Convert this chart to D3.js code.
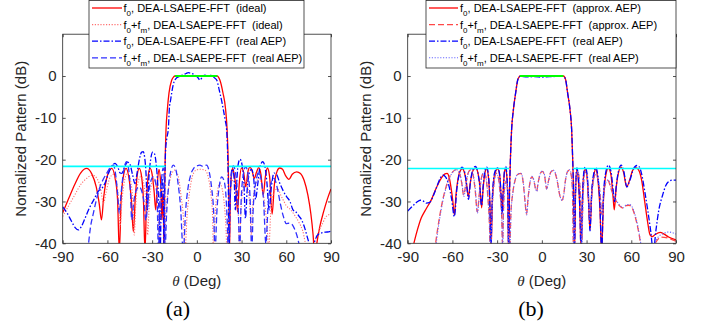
<!DOCTYPE html>
<html><head><meta charset="utf-8">
<script src="https://cdn.jsdelivr.net/npm/d3@7"></script>
<style>
body{margin:0;background:#fff}
svg{display:block;font-family:"Liberation Sans",Arial,sans-serif}
text{white-space:pre}
</style>
</head><body><svg id="c" width="709" height="327"></svg>
<script>
// ---------- data ----------
const thetaTicks = [-90, -60, -30, 0, 30, 60, 90];
const dbTicks = [-40, -30, -20, -10, 0];

// Panel (a)
const a_f0_ideal = [[-90,-32.7],[-86,-29.3],[-82,-26],[-78,-23.2],[-74,-22.1],[-70.5,-23.4],[-67.5,-26.5],[-65.5,-30.5],[-64,-34.4],[-62.5,-29],[-60,-23.8],[-57.1,-22.1],[-54.8,-24.5],[-53.2,-29.5],[-52,-42],[-50.8,-29.5],[-49.3,-24],[-47.5,-22.1],[-45.6,-24.3],[-44,-29.5],[-42.6,-37.2],[-41.2,-28.5],[-39.8,-23.2],[-38.6,-22.1],[-37.1,-24],[-35.8,-30],[-34.8,-42],[-33.8,-30],[-32.5,-23.5],[-31.4,-22.1],[-30,-23.5],[-28.7,-27.5],[-27.6,-32],[-26.5,-25.5],[-25.4,-22.3],[-24.3,-25.5],[-23.4,-34.4],[-22.9,-28],[-22.5,-30],[-22.1,-42],[-21.7,-30],[-21.3,-21],[-20.7,-12.9],[-19.8,-8.1],[-18.7,-4.1],[-16.9,-1],[-15.6,-0.2],[-14.7,0],[-8,0],[0,0],[8,0],[13.7,0],[14.6,-0.3],[15.5,-1],[17.5,-4],[19.3,-8],[20.3,-12.9],[21,-20],[21.5,-30],[21.9,-42],[22.4,-30],[23.2,-23.5],[24,-22.1],[25,-23.5],[26.3,-27],[27.3,-32.5],[28.4,-26],[30,-22],[31.5,-23.3],[32.8,-26.5],[34.2,-23],[35.6,-21.8],[37,-22.6],[38.5,-24.5],[40,-23],[41.5,-21.9],[43,-23.5],[44.5,-28.5],[46,-24],[47.3,-22],[48.8,-24],[50.5,-33],[52,-26],[53.8,-22.8],[55.5,-22],[57.5,-22.3],[59.5,-23.8],[61.8,-24.7],[64,-23.5],[67,-22.9],[69.5,-23.3],[72,-25],[74.5,-28.5],[76.5,-33],[78,-38],[79.2,-44],[80.5,-40],[82.5,-36],[85,-32.5],[87.5,-29.5],[90,-27]];

const a_fm_ideal = [[-90,-33.6],[-86,-31],[-82,-28.5],[-78,-26],[-74,-24.5],[-70,-23.7],[-67,-24.5],[-64.5,-27],[-62.7,-30.5],[-61,-28],[-58.5,-24.5],[-56,-23.5],[-54,-25],[-52.5,-30],[-51.5,-36],[-50.3,-30],[-48.5,-25],[-46.5,-23.2],[-44.5,-25],[-42.8,-31],[-42,-38],[-41,-31],[-39.5,-25.5],[-37.5,-24],[-35.5,-26],[-34,-31],[-33,-38],[-32,-31],[-30.5,-26],[-28.8,-24.5],[-27.2,-27],[-26,-33],[-25.2,-42],[-24.2,-32],[-23.2,-27],[-22.4,-29],[-21.8,-42],[-20.8,-33],[-19,-27],[-17,-23.5],[-14.7,-22.5],[-12.5,-24],[-10.5,-29],[-9,-34],[-8,-42],[-6.5,-33],[-5,-28],[-3,-24],[-0.5,-22.5],[2.5,-22.3],[5.5,-22.5],[7.5,-24],[9.5,-28.5],[10.5,-33],[11.1,-42],[12.3,-33],[13.8,-27.5],[15.5,-25.7],[17,-27],[18.5,-31],[19.5,-36],[20.2,-42],[21.2,-33],[22.5,-27.5],[24,-25],[25.5,-25.5],[27,-29],[28,-35],[28.6,-42],[29.5,-33],[31,-27],[32.5,-25],[34,-26.5],[35.5,-31],[36.5,-38],[37.5,-31],[39.5,-26],[41.5,-24.5],[43.5,-26],[45.5,-30.5],[47.5,-38],[48.2,-42],[49.5,-33],[51.5,-28],[54,-27],[57,-29],[60,-31],[63,-32],[66,-33.5],[68.5,-35],[71,-37],[73.5,-40.5],[77,-41],[80,-38.5],[84,-35.5],[87,-33.5],[90,-33]];

const a_f0_real = [[-90,-31.3],[-87,-32.8],[-84,-34.8],[-81.5,-36.3],[-79.5,-36.8],[-77.5,-36],[-75,-34],[-72,-31.5],[-69,-29.5],[-66,-27.5],[-63.8,-26.9],[-61.5,-25.5],[-59,-23],[-56.5,-21.3],[-54.9,-20.9],[-53,-21.8],[-51.5,-23.2],[-50.4,-23.3],[-48.5,-21.8],[-46.5,-20.6],[-45,-21],[-43.2,-23.5],[-41.5,-25.7],[-40,-23],[-38.5,-19.8],[-37,-18.2],[-36,-18.1],[-35,-19.5],[-34,-24],[-33.2,-32],[-32.3,-25],[-31,-20],[-29.6,-18.2],[-28.5,-18.5],[-27.3,-21],[-26.2,-26],[-25.3,-33],[-24.6,-42],[-23.9,-30],[-23.2,-24.5],[-22.7,-26],[-22.3,-34],[-22,-42],[-21.5,-26],[-21,-18],[-20.2,-15],[-19.1,-12.5],[-18.5,-8.1],[-17.5,-5.5],[-16.9,-4.1],[-15.8,-2],[-14.7,-0.95],[-13.5,-0.4],[-12.4,-0.2],[-10.5,0.1],[-9,0.3],[-7.2,0.6],[-5.7,0.8],[-3.5,0.6],[-1.2,0.24],[0.5,-0.3],[2.1,-0.95],[3.8,-0.2],[5.5,0.2],[7,0],[8.8,0.2],[10.5,-0.1],[12.2,-0.55],[13.4,-1],[14.5,-2.5],[15.5,-4.1],[16.7,-6],[17.8,-8.1],[19,-10.5],[20,-12.9],[20.6,-18],[21.1,-26],[21.6,-42],[22.3,-30],[23.2,-23],[24,-22.2],[25,-24.5],[25.8,-32],[26.5,-27],[27.7,-21.2],[28.9,-19.9],[30.2,-21],[31.5,-25],[32.6,-34],[33.8,-27],[35.3,-23],[36.6,-22.3],[38,-24],[39.4,-29.5],[40.8,-26],[42.5,-21.5],[44.2,-20.5],[45.6,-21.5],[47,-25.5],[48.5,-32],[50,-26.5],[51.8,-23.2],[53.5,-23.5],[55.5,-25.5],[58,-27.5],[60.3,-28.9],[62.5,-30],[64.5,-32],[66.5,-32.5],[68.5,-33.5],[70.3,-34.4],[72.5,-36.5],[74.5,-39],[76.5,-41],[78.5,-40],[81,-38],[84.9,-37.4],[87.5,-37.3],[90,-37.1]];

const a_fm_real = [[-73.2,-42],[-71.5,-36.5],[-69.4,-32.8],[-67,-29],[-65,-26.5],[-62.5,-24.5],[-60,-23],[-58,-21.8],[-56,-21.3],[-54.5,-23.5],[-53.2,-28],[-52,-32.8],[-50.8,-28],[-49,-22.5],[-47.1,-20.5],[-45.5,-23],[-44.5,-28],[-43.7,-34.4],[-42.5,-30.5],[-40.5,-27.2],[-38.6,-26.5],[-37,-27.5],[-35.5,-30],[-34.2,-34.5],[-33.3,-32],[-31.5,-26],[-29.2,-24.1],[-27.7,-25.5],[-26.6,-30],[-25.8,-42],[-24.8,-30],[-23.5,-24],[-22.6,-22],[-21.9,-25],[-21.4,-42],[-20.3,-33],[-19,-26.5],[-17.5,-22.8],[-15.8,-21.3],[-14,-22.5],[-12.5,-26],[-11,-31],[-9.1,-42],[-7.5,-32],[-6,-27],[-4,-23.5],[-2,-22],[0,-21.5],[2.1,-21.3],[4,-21.6],[6.6,-21.3],[8.5,-23.3],[10,-27],[11.2,-32],[12.2,-42],[13.5,-32],[15,-26.5],[16.6,-24.1],[18,-24.8],[19.4,-28],[20.4,-35],[21.1,-42],[22.1,-30],[23.3,-23.5],[24.5,-21.5],[25.6,-22.5],[26.8,-26],[27.9,-33],[28.7,-42],[29.7,-30],[31.2,-23.5],[32.8,-21.7],[34.3,-23.5],[35.7,-29],[36.8,-42],[37.9,-31],[39.8,-25],[41.5,-23],[43,-24.5],[44.8,-30],[46.3,-40],[47.8,-31],[49.8,-25.5],[51.8,-24.5],[53.8,-26.5],[56,-30.5],[58,-33.5],[60,-35.3],[61.8,-35.2],[63.6,-35.4],[65.8,-36.8],[67.8,-39],[69.5,-42]];

// Panel (b)
const b_f0_approx = [[-87.2,-42],[-85.5,-39.5],[-83.5,-36.8],[-81,-34],[-78.5,-32.3],[-76.2,-30.9],[-74,-29.5],[-71.5,-27.3],[-69.4,-25.7],[-67,-24.2],[-65,-23.4],[-63.6,-23.3],[-62.2,-24.2],[-60.8,-27],[-59.7,-30],[-58.7,-33.2],[-57.5,-28],[-55.8,-23.8],[-54.5,-22.5],[-53.3,-22.2],[-52,-23],[-50.6,-25.5],[-49.3,-28.9],[-48,-25.5],[-46.2,-22.6],[-44.4,-22],[-42.8,-23.3],[-41.5,-26.5],[-40.4,-31.5],[-39.3,-26.5],[-38.1,-23],[-37,-22.2],[-35.9,-24],[-34.9,-30],[-34.1,-42],[-33.2,-30],[-31.6,-23.5],[-29.6,-22.2],[-28.2,-24],[-27.2,-30],[-26.7,-32.8],[-26,-28],[-25.1,-23],[-24.3,-22.1],[-23.5,-24],[-22.8,-30],[-22.3,-42],[-21.7,-28],[-21.1,-20],[-20.3,-12.9],[-19.1,-8.1],[-17.6,-4.1],[-16.2,-0.95],[-15.2,-0.2],[-14.7,0],[-10,0.05],[-5,0],[0,-0.1],[5,0],[10,0.05],[14.4,0],[15.2,-0.2],[16,-0.95],[17.3,-4.1],[18.9,-8.1],[20,-12.9],[20.7,-20],[21.3,-28],[21.9,-42],[22.6,-28],[23.4,-22.3],[24.5,-25],[25.5,-32],[26.3,-42],[27.2,-30],[28,-24],[29,-22.3],[30.3,-24],[31.3,-30],[32.3,-36.8],[33.5,-28],[35,-23.5],[36.1,-22.3],[37.5,-24.5],[39,-32],[40.1,-42],[41.3,-30],[43,-23.5],[44.6,-22.1],[46.3,-23.5],[47.8,-29],[48.6,-32],[49.8,-27],[51.5,-23],[53.1,-21.8],[54.8,-23],[56.9,-26.5],[58.8,-25],[61,-22.5],[63,-21.9],[65,-22.5],[67,-25],[69,-30],[71,-35],[72.6,-38],[74,-38.4],[76,-37.9],[79.3,-37.4],[82,-37.8],[85,-38.5],[90,-39.2]];

const b_fm_approx = [[-72,-42],[-70.5,-38],[-69,-34.5],[-67,-30.5],[-64.5,-26.8],[-62,-24.2],[-59.5,-22.8],[-57.2,-22.4],[-55.2,-23.3],[-53.8,-25.5],[-52.5,-28.5],[-51.3,-26.5],[-49.8,-23.6],[-48,-22.5],[-46.3,-23.5],[-44.8,-27],[-43.3,-32.5],[-41.9,-28],[-40.3,-24],[-38.8,-23],[-37.4,-24.5],[-36.2,-29],[-35.2,-35],[-34.5,-42],[-33.6,-33],[-32.2,-26],[-30.6,-23.3],[-29.1,-24.5],[-27.9,-28.5],[-27,-33],[-26.4,-40],[-25.6,-30],[-24.6,-25.8],[-23.7,-25],[-22.9,-28],[-22.3,-42],[-21.6,-42],[-20.8,-33],[-19.5,-28],[-18,-25],[-16,-23.5],[-14,-23.3],[-12.5,-25.5],[-11.3,-30],[-10.3,-33],[-9.2,-29],[-8,-25.5],[-6.8,-24.1],[-5.5,-24.8],[-4.2,-27],[-3.5,-27.5],[-2.5,-25.5],[-1,-23.3],[0.3,-22.8],[1.8,-23.8],[3.2,-27],[4.5,-25],[6,-23],[7.5,-22.6],[9,-23.3],[10.5,-25.5],[12,-28.5],[13.5,-29.7],[14.6,-28.5],[15.8,-25],[17,-23],[18.5,-22.5],[19.6,-23.5],[20.5,-27],[21.3,-42],[22,-30],[23,-24],[24,-22.8],[25,-24.5],[26,-30],[26.6,-42],[27.5,-30],[28.8,-23],[30,-23.5],[31.2,-28],[32,-34],[33,-30],[34.5,-25],[36,-23.5],[37.5,-24.5],[39,-28],[40.2,-33],[41.5,-28],[43,-25.5],[44.5,-25],[46,-26.5],[48,-28.5],[50,-30],[52,-31],[54.7,-31.6],[56.5,-31],[58.5,-30.9],[60.5,-31.5],[62.5,-33.5],[64.5,-36.5],[66,-39.5],[67,-42],[73,-42],[76,-40],[80,-38.5],[85,-38.8],[90,-39.5]];

const b_f0_real = [[-90,-32.3],[-87,-31.2],[-84,-30.2],[-81.5,-29.7],[-79.5,-29.9],[-77.5,-30.4],[-75.5,-30.3],[-73,-28.8],[-70.5,-26.5],[-68,-24.3],[-66.3,-23.7],[-64.5,-24.2],[-62.5,-26],[-60.5,-29.5],[-58.7,-33.6],[-57,-27],[-55,-22.8],[-53.5,-21.8],[-51.8,-23],[-50.3,-26.5],[-49.2,-29.5],[-47.8,-25],[-46,-22.2],[-44.6,-21.6],[-43,-23],[-41.6,-26.5],[-40.5,-31],[-39.3,-26],[-38.1,-22.5],[-37,-21.8],[-35.9,-23.5],[-35,-29],[-34.2,-42],[-33.3,-29.5],[-31.6,-23],[-29.7,-22],[-28.3,-23.5],[-27.3,-29],[-26.7,-33],[-26,-28],[-25.1,-22.8],[-24.3,-21.6],[-23.5,-23.5],[-22.8,-30],[-22.3,-42],[-21.7,-28],[-21.1,-20],[-20.3,-12.9],[-19.1,-8.1],[-17.6,-4.1],[-16.2,-0.95],[-15.2,-0.25],[-14.5,-0.1],[-10,-0.2],[-5,-0.15],[0,-0.25],[5,-0.15],[10,-0.1],[14.4,-0.1],[15.2,-0.25],[16,-0.95],[17.3,-4.1],[18.9,-8.1],[20,-12.9],[20.7,-20],[21.3,-28],[21.9,-42],[22.6,-28],[23.5,-22],[24.5,-24.5],[25.5,-32],[26.3,-42],[27.2,-30],[28,-23.5],[29.1,-21.8],[30.4,-23.5],[31.4,-30],[32.3,-37],[33.5,-27.5],[35,-23],[36.2,-21.9],[37.6,-24],[39,-31],[40.1,-42],[41.3,-29],[43,-22.8],[44.7,-21.3],[46.4,-22.8],[47.9,-27.5],[48.8,-30],[50,-26],[51.7,-22.3],[53.2,-21.3],[55,-22.8],[57,-26.5],[59,-25],[61.5,-22.2],[63.8,-21.4],[65.5,-21.8],[67,-23.5],[69,-27.5],[71,-32],[73,-37],[74.8,-42],[76.5,-37],[78.5,-32],[81,-28.5],[83,-26.3],[84.9,-25.3],[87.5,-24.9],[90,-24.9]];

const b_fm_real = [[-71.5,-42],[-70,-37.5],[-68.5,-34],[-66.5,-30],[-64,-26.5],[-61.5,-24],[-59,-22.7],[-57,-22.4],[-55,-23.4],[-53.6,-25.7],[-52.3,-28.8],[-51.1,-26.3],[-49.6,-23.5],[-47.8,-22.4],[-46.1,-23.6],[-44.6,-27.2],[-43.2,-32.8],[-41.8,-28],[-40.2,-23.9],[-38.7,-22.9],[-37.3,-24.6],[-36.1,-29.3],[-35.1,-35.5],[-34.4,-42],[-33.5,-33],[-32.1,-25.8],[-30.5,-23.2],[-29,-24.6],[-27.8,-28.8],[-26.9,-33.5],[-26.3,-41],[-25.5,-30],[-24.5,-25.6],[-23.6,-25],[-22.8,-28.3],[-22.2,-42],[-21.5,-42],[-20.7,-33],[-19.4,-27.8],[-17.9,-24.8],[-15.9,-23.4],[-13.9,-23.3],[-12.4,-25.6],[-11.2,-30.2],[-10.2,-33.2],[-9.1,-29],[-7.9,-25.4],[-6.7,-24],[-5.4,-24.8],[-4.1,-27.1],[-3.4,-27.6],[-2.4,-25.4],[-0.9,-23.2],[0.4,-22.7],[1.9,-23.8],[3.3,-27.1],[4.6,-25],[6.1,-22.9],[7.6,-22.5],[9.1,-23.2],[10.6,-25.5],[12.1,-28.6],[13.6,-29.8],[14.7,-28.5],[15.9,-24.9],[17.1,-22.9],[18.6,-22.4],[19.7,-23.5],[20.6,-27.5],[21.4,-42],[22.1,-30],[23.1,-24],[24.1,-22.7],[25.1,-24.5],[26.1,-30.5],[26.7,-42],[27.6,-30],[28.9,-22.9],[30.1,-23.4],[31.3,-28],[32.1,-34.5],[33.1,-30],[34.6,-25],[36.1,-23.4],[37.6,-24.4],[39.1,-28],[40.3,-33.5],[41.6,-28],[43.1,-25.3],[44.6,-24.8],[46.1,-26.3],[48.1,-28.3],[50.1,-29.8],[52.1,-30.8],[54.8,-31.5],[56.6,-30.8],[58.6,-30.7],[60.6,-31.3],[62.6,-33.3],[64.6,-36.3],[66.1,-39.3],[67.2,-42],[72,-42],[75,-40.5],[78,-38.5],[81,-37.8],[85,-37.3],[90,-37.8]];

// reference levels
const sllLevelA = -21.6, sllLevelB = -22.1;
const sllRangesA = [[-90,-21],[21.4,90]];
const sllRangesB = [[-90,-22],[21.1,90]];
const beamRangeA = [-14.7, 13.7];
const beamRangeB = [-14.7, 14.4];

// legend labels
const legendA = [
  [{t:"f"},{t:"0",s:1},{t:", DEA-LSAEPE-FFT  (ideal)"}],
  [{t:"f"},{t:"0",s:1},{t:"+f"},{t:"m",s:1},{t:", DEA-LSAEPE-FFT  (ideal)"}],
  [{t:"f"},{t:"0",s:1},{t:", DEA-LSAEPE-FFT  (real AEP)"}],
  [{t:"f"},{t:"0",s:1},{t:"+f"},{t:"m",s:1},{t:", DEA-LSAEPE-FFT  (real AEP)"}]
];
const legendB = [
  [{t:"f"},{t:"0",s:1},{t:", DEA-LSAEPE-FFT  (approx. AEP)"}],
  [{t:"f"},{t:"0",s:1},{t:"+f"},{t:"m",s:1},{t:", DEA-LSAEPE-FFT  (approx. AEP)"}],
  [{t:"f"},{t:"0",s:1},{t:", DEA-LSAEPE-FFT  (real AEP)"}],
  [{t:"f"},{t:"0",s:1},{t:"+f"},{t:"m",s:1},{t:", DEA-LSAEPE-FFT  (real AEP)"}]
];

// ---------- styles ----------
const stRedSolid = {color:"#ff0000", w:1.3, dash:null};
const stRedDot = {color:"#ff7070", w:1.1, dash:"1.2,1.6"};
const stBlueDashDot = {color:"#0000ff", w:1.3, dash:"6,2,1.5,2"};
const stBlueDash = {color:"#3030ff", w:1.3, dash:"6,3"};
const stRedDash = {color:"#ff4848", w:1.3, dash:"6,3"};
const stBlueDot = {color:"#6a6aff", w:1.1, dash:"1.2,1.6"};

const axisColor = "#262626";
const svg = d3.select("#c");
const TOP = 34.2, BOT = 243.3;

function drawPanel(cfg, idx){
  const x = d3.scaleLinear().domain([-90,90]).range([cfg.left, cfg.right]);
  const y = d3.scaleLinear().domain([-40,10]).range([BOT, TOP]);
  const g = svg.append("g");
  const cid = "clip"+idx;
  svg.append("defs").append("clipPath").attr("id",cid).append("rect")
    .attr("x",cfg.left).attr("y",TOP).attr("width",cfg.right-cfg.left).attr("height",BOT-TOP);
  const plot = g.append("g").attr("clip-path","url(#"+cid+")");
  const line = d3.line().x(d=>x(d[0])).y(d=>y(d[1])).curve(d3.curveMonotoneX);
  cfg.series.forEach(s=>{
    plot.append("path").datum(s.data).attr("d",line).attr("fill","none")
      .attr("stroke",s.st.color).attr("stroke-width",s.st.w)
      .attr("stroke-dasharray",s.st.dash).attr("stroke-linejoin","round");
  });
  cfg.sll.forEach(r=>{
    plot.append("path").datum([[r[0],cfg.sllLevel],[r[1],cfg.sllLevel]])
      .attr("d",d3.line().x(d=>x(d[0])).y(d=>y(d[1]))).attr("stroke","#00ffff").attr("stroke-width",1.6).attr("fill","none");
  });
  plot.append("path").datum([[cfg.beam[0],0],[cfg.beam[1],0]])
    .attr("d",d3.line().x(d=>x(d[0])).y(d=>y(d[1]))).attr("stroke","#00ff00").attr("stroke-width",2).attr("fill","none");

  // axes
  const fmt = d=>String(d);
  const ax = [
    g.append("g").attr("transform",`translate(0,${BOT})`).call(d3.axisBottom(x).tickValues(thetaTicks).tickSize(-3).tickPadding(8).tickFormat(fmt)),
    g.append("g").attr("transform",`translate(0,${TOP})`).call(d3.axisTop(x).tickValues(thetaTicks).tickSize(-3).tickFormat("")),
    g.append("g").attr("transform",`translate(${cfg.left},0)`).call(d3.axisLeft(y).tickValues(dbTicks).tickSize(-3).tickPadding(6).tickFormat(fmt)),
    g.append("g").attr("transform",`translate(${cfg.right},0)`).call(d3.axisRight(y).tickValues(dbTicks).tickSize(-3).tickFormat(""))
  ];
  ax.forEach(a=>{
    a.select(".domain").remove();
    a.selectAll("line").attr("stroke",axisColor).attr("stroke-width",0.8);
    a.selectAll("text").attr("fill",axisColor).style("font-size","15px").style("font-family","'Liberation Sans',Arial,sans-serif");
  });
  g.append("rect").attr("x",cfg.left).attr("y",TOP).attr("width",cfg.right-cfg.left).attr("height",BOT-TOP)
    .attr("fill","none").attr("stroke",axisColor).attr("stroke-width",0.8);

  // labels
  const cx = (cfg.left+cfg.right)/2;
  const xl = g.append("text").attr("x",cx).attr("y",286).attr("text-anchor","middle")
    .attr("fill",axisColor).style("font-size","15px");
  xl.append("tspan").text("θ").style("font-style","italic").style("font-family","'Liberation Serif','Times New Roman',serif");
  xl.append("tspan").text(" (Deg)");
  g.append("text").attr("transform",`translate(${cfg.left-37},${(TOP+BOT)/2}) rotate(-90)`)
    .attr("text-anchor","middle").attr("fill",axisColor).style("font-size","15px").text("Nomalized Pattern (dB)");
  g.append("text").attr("x",cfg.capX).attr("y",316).attr("text-anchor","middle")
    .style("font-family","'Liberation Serif','Times New Roman',serif").style("font-size","22px").attr("fill","#000").text(cfg.cap);

  // legend
  const L = cfg.legend;
  const lg = g.append("g");
  lg.append("rect").attr("x",L.x).attr("y",L.y).attr("width",L.w).attr("height",L.h)
    .attr("fill","#fff").attr("stroke",axisColor).attr("stroke-width",0.8);
  const rowsY = [8, 24.6, 41.2, 57.8];
  cfg.series.forEach((s,i)=>{
    const yy = rowsY[i];
    lg.append("line").attr("x1",L.sx0).attr("x2",L.sx1).attr("y1",yy).attr("y2",yy)
      .attr("stroke",s.st.color).attr("stroke-width",s.st.w).attr("stroke-dasharray",s.st.dash);
    const t = lg.append("text").attr("x",L.tx).attr("y",yy+4).attr("fill","#000").style("font-size","11px");
    let sub = false;
    cfg.labels[i].forEach(p=>{
      const ts = t.append("tspan").text(p.t);
      if(p.s){ ts.attr("dy",4).style("font-size","8px"); sub=true; }
      else if(sub){ ts.attr("dy",-4); sub=false; }
    });
  });
}

drawPanel({left:62.7,right:331,cap:"(a)",capX:178,sllLevel:sllLevelA,sll:sllRangesA,beam:beamRangeA,
  series:[{data:a_f0_ideal,st:stRedSolid},{data:a_fm_ideal,st:stRedDot},{data:a_f0_real,st:stBlueDashDot},{data:a_fm_real,st:stBlueDash}],
  labels:legendA, legend:{x:89,y:0.5,w:215,h:67.5,sx0:92,sx1:122,tx:123.5}},0);
drawPanel({left:407.7,right:676,cap:"(b)",capX:531,sllLevel:sllLevelB,sll:sllRangesB,beam:beamRangeB,
  series:[{data:b_f0_approx,st:stRedSolid},{data:b_fm_approx,st:stRedDash},{data:b_f0_real,st:stBlueDashDot},{data:b_fm_real,st:stBlueDot}],
  labels:legendB, legend:{x:426,y:0.5,w:250,h:67.5,sx0:429,sx1:458,tx:460}},1);
</script></body></html>
